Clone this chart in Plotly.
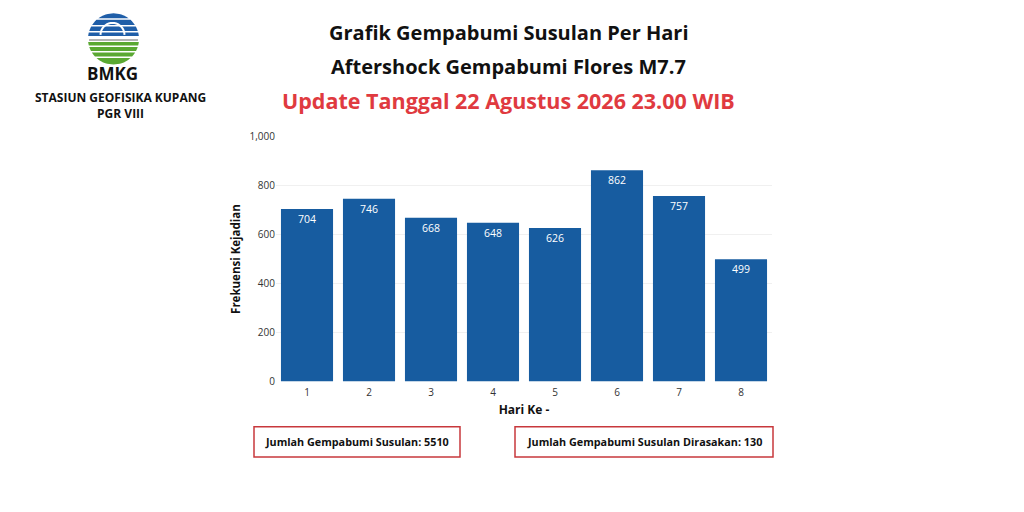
import math
import plotly.graph_objects as go

# data
hari = ["1", "2", "3", "4", "5", "6", "7", "8"]
frekuensi = [704, 746, 668, 648, 626, 862, 757, 499]
y_ticks = [0, 200, 400, 600, 800, 1000]
y_tick_text = ["0", "200", "400", "600", "800", "1,000"]
total_susulan = 5510
total_dirasakan = 130

W, H = 1024, 512
SY = 0.968  # vertical squeeze seen in the photographed page
BLUE = "#175ca0"
RED = "#e03a40"
FONT = "Open Sans"


def px(x, y):
    # target pixel -> paper coords
    yy = H / 2 + (y - H / 2) / SY
    return x / W, 1 - yy / H


fig = go.Figure()
fig.add_trace(go.Bar(
    x=hari, y=frekuensi,
    marker=dict(color=BLUE, line=dict(width=0)),
    text=frekuensi, textposition="inside", insidetextanchor="end",
    textfont=dict(color="white", size=10.5, family=FONT),
    hoverinfo="x+y",
))

x0, _ = px(276, 0)
x1, _ = px(772, 0)
_, y0 = px(0, 381)
_, y1 = px(0, 137)

fig.update_layout(
    width=W, height=H,
    margin=dict(l=0, r=0, t=0, b=0),
    paper_bgcolor="white", plot_bgcolor="white",
    showlegend=False, bargap=0.16,
    font=dict(family=FONT, color="#222"),
    xaxis=dict(domain=[x0, x1], showgrid=False, showline=False, ticks="", ticklabelstandoff=3,
               tickfont=dict(size=10, color="#333"),
               title=dict(text="<b>Hari Ke -</b>", font=dict(size=12, color="#111"), standoff=7)),
    yaxis=dict(domain=[y0, y1], range=[0, 1000], tickvals=y_ticks, ticktext=y_tick_text,
               gridcolor="#f0f0f0", zeroline=False, showline=False, ticks="",
               tickfont=dict(size=10, color="#333"),
               title=dict(text="<b>Frekuensi Kejadian</b>", font=dict(size=11.5, color="#111"), standoff=6)),
)

# titles
titles = [
    ("<b>Grafik Gempabumi Susulan Per Hari</b>", 34, "#111", 20),
    ("<b>Aftershock Gempabumi Flores M7.7</b>", 67, "#111", 20),
    ("<b>Update Tanggal 22 Agustus 2026 23.00 WIB</b>", 101, RED, 21.5),
]
for txt, yy, col, sz in titles:
    ax, ay = px(508, yy)
    fig.add_annotation(x=ax, y=ay, xref="paper", yref="paper", text=txt, showarrow=False,
                       font=dict(size=sz, color=col, family=FONT), xanchor="center", yanchor="middle")

# summary boxes
boxes = [
    (254, 460, f"<b>Jumlah Gempabumi Susulan: {total_susulan}</b>"),
    (515, 773, f"<b>Jumlah Gempabumi Susulan Dirasakan: {total_dirasakan}</b>"),
]
for bx0, bx1, txt in boxes:
    a, b = px(bx0, 426)
    c, d = px(bx1, 456)
    fig.add_shape(type="rect", xref="paper", yref="paper", x0=a, y0=b, x1=c, y1=d,
                  line=dict(color="#c8383c", width=1.5), fillcolor="white")
    mx, my = px((bx0 + bx1) / 2, 441)
    fig.add_annotation(x=mx, y=my, xref="paper", yref="paper", text=txt, showarrow=False,
                       font=dict(size=10.8, color="#111", family=FONT), xanchor="center", yanchor="middle")

# logo text
ax, ay = px(112, 74)
fig.add_annotation(x=ax, y=ay, xref="paper", yref="paper", text="<b>BMKG</b>", showarrow=False,
                   font=dict(size=17, color="#111", family=FONT), xanchor="center", yanchor="middle")
ax, ay = px(120.5, 106.5)
fig.add_annotation(x=ax, y=ay, xref="paper", yref="paper",
                   text="<b>STASIUN GEOFISIKA KUPANG</b><br><b>PGR VIII</b>", showarrow=False,
                   font=dict(size=12, color="#111", family=FONT), xanchor="center", yanchor="middle")

# logo emblem: stripes clipped to a circle
cx, cy, r = 113.5, 40, 25.5


def to_path(pts, close=True):
    p = []
    for i, (xx, yy) in enumerate(pts):
        a, b = px(xx, yy)
        p.append(("M" if i == 0 else "L") + f"{a:.5f},{b:.5f}")
    return " ".join(p) + (" Z" if close else "")


def band_path(ya, yb):
    pts_r, pts_l = [], []
    n = 8
    for i in range(n + 1):
        yy = ya + (yb - ya) * i / n
        hw = math.sqrt(max(r * r - (yy - cy) ** 2, 0))
        pts_r.append((cx + hw, yy))
        pts_l.append((cx - hw, yy))
    return to_path(pts_r + pts_l[::-1])


blue_bands = [(14.5, 19.5), (21, 26), (27.5, 32), (33.5, 37)]
green_bands = [(43, 46.5), (48, 52), (53.5, 57.5), (59, 65.5)]
for ya, yb in blue_bands:
    fig.add_shape(type="path", xref="paper", yref="paper", path=band_path(ya, yb),
                  fillcolor="#1f5ea8", line=dict(width=0))
for ya, yb in green_bands:
    fig.add_shape(type="path", xref="paper", yref="paper", path=band_path(ya, yb),
                  fillcolor="#5aa832", line=dict(width=0))
# white hill arc across the blue part
arc_pts = []
for i in range(21):
    t = math.pi * i / 20
    arc_pts.append((cx - 1 - 12 * math.cos(t), 36 - 12 * math.sin(t)))
fig.add_shape(type="path", xref="paper", yref="paper", path=to_path(arc_pts, close=False),
              line=dict(color="white", width=2))
la, lb = px(cx - r + 1, 41)
lc, ld = px(cx + r - 1, 41)
fig.add_shape(type="line", xref="paper", yref="paper", x0=la, y0=lb, x1=lc, y1=ld,
              line=dict(color="#9a9a9a", width=1.5))

# drop the default page margin so the figure sits at the window's corner
fig.write_html("out.html", config={"displayModeBar": False},
               post_script="document.body.style.margin='0';")
